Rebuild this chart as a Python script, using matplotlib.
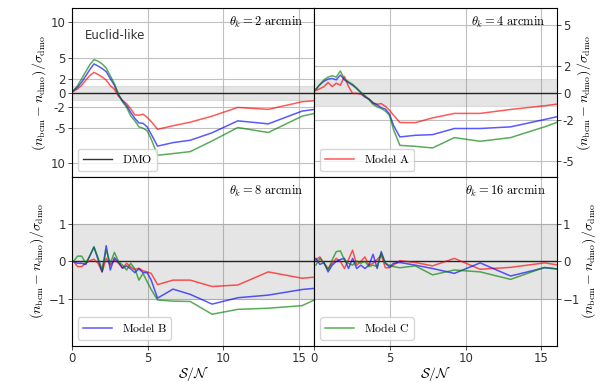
import numpy as np
import matplotlib
matplotlib.use("Agg")
import matplotlib.pyplot as plt

plt.rcParams['mathtext.fontset'] = 'cm'

# signal-to-noise bins (shared by all panels)
sn = [0.1, 0.37, 0.64, 0.91, 1.18, 1.45, 1.72, 1.99, 2.26, 2.53, 2.8, 3.07, 3.34,
      3.61, 3.88, 4.15, 4.42, 4.69, 4.96, 5.23, 5.65, 6.67, 7.81, 9.25, 10.95,
      12.96, 15.2, 16.0]

theta = [2, 4, 8, 16]
models = ['Model A', 'Model B', 'Model C']

# theta_k = 2 arcmin
a_2 = [0.2, 0.55, 1.05, 1.8, 2.45, 2.9, 2.6, 2.25, 1.8, 1.0, 0.5, -0.5, -1.1, -1.55,
       -2.3, -3.15, -3.2, -3.05, -3.5, -4.1, -5.2, -4.7, -4.19, -3.33, -2.09, -2.37,
       -1.28, -1.14]
b_2 = [0.3, 0.8, 1.5, 2.4, 3.3, 4.1, 3.8, 3.45, 3.0, 2.0, 1.05, -0.3, -1.2, -1.85,
       -2.8, -3.65, -4.3, -4.35, -4.85, -5.9, -7.6, -7.1, -6.76, -5.7, -4.0, -4.43,
       -2.61, -2.38]
c_2 = [0.3, 1.0, 2.0, 3.0, 4.0, 4.7, 4.5, 4.1, 3.5, 2.4, 1.3, -0.2, -1.3, -2.1, -3.3,
       -4.0, -4.85, -5.05, -5.4, -6.6, -8.9, -8.66, -8.38, -6.86, -4.95, -5.66, -3.33,
       -2.95]

# theta_k = 4 arcmin
a_4 = [0.15, 0.3, 0.45, 0.75, 0.45, 0.7, 0.55, 1.2, 0.45, -0.05, -0.05, -0.1, -0.3,
       -0.5, -0.75, -0.84, -0.8, -1.0, -1.28, -1.65, -2.19, -2.2, -1.85, -1.52, -1.52,
       -1.23, -0.96, -0.84]
b_4 = [0.25, 0.6, 0.85, 1.0, 1.05, 0.95, 1.3, 0.95, 0.75, 0.55, 0.3, 0.0, -0.3, -0.45,
       -0.75, -0.9, -1.1, -1.2, -1.55, -2.4, -3.25, -3.13, -3.08, -2.63, -2.63, -2.51,
       -1.97, -1.77]
c_4 = [0.25, 0.6, 0.95, 1.15, 1.25, 1.15, 1.6, 1.0, 0.8, 0.62, 0.35, 0.05, -0.2, -0.5,
       -0.85, -1.05, -1.15, -1.35, -1.65, -2.7, -3.87, -3.94, -4.06, -3.3, -3.57, -3.3,
       -2.51, -2.19]

# theta_k = 8 arcmin
a_8 = [0.0, -0.14, -0.14, -0.05, 0.02, 0.06, -0.05, -0.28, 0.08, -0.1, 0.04, -0.05,
       -0.18, -0.05, -0.15, -0.22, -0.18, -0.25, -0.28, -0.32, -0.62, -0.5, -0.5,
       -0.67, -0.63, -0.28, -0.45, -0.42]
b_8 = [0.0, -0.05, -0.05, -0.08, 0.15, 0.38, 0.05, -0.28, 0.42, -0.23, 0.1, -0.02,
       -0.18, -0.12, -0.2, -0.3, -0.2, -0.3, -0.3, -0.5, -0.98, -0.74, -0.88, -1.14,
       -0.97, -0.9, -0.75, -0.72]
c_8 = [0.0, 0.14, 0.14, -0.05, 0.15, 0.39, 0.1, -0.23, 0.3, -0.05, 0.24, 0.0, -0.1,
       -0.23, -0.05, -0.2, -0.5, -0.32, -0.54, -0.75, -1.03, -1.06, -1.07, -1.41,
       -1.28, -1.25, -1.18, -1.03]

# theta_k = 16 arcmin
a_16 = [0.04, 0.12, -0.05, -0.19, -0.05, 0.08, 0.0, -0.19, 0.05, 0.3, -0.1, 0.0, 0.12,
        -0.1, -0.05, 0.05, 0.17, -0.17, -0.17, -0.1, 0.02, -0.03, -0.12, 0.08, -0.21,
        -0.16, -0.04, -0.09]
b_16 = [0.08, -0.08, -0.03, -0.28, -0.1, 0.0, 0.05, 0.08, -0.19, 0.08, -0.19, -0.1,
        -0.19, -0.1, 0.19, -0.19, 0.26, -0.05, -0.15, -0.05, -0.03, -0.1, -0.19, -0.32,
        -0.04, -0.39, -0.17, -0.2]
c_16 = [-0.1, 0.08, -0.05, -0.23, 0.04, 0.26, 0.28, 0.04, -0.05, -0.1, 0.01, -0.05,
        0.0, -0.14, -0.1, -0.14, 0.21, -0.05, -0.1, -0.14, -0.17, -0.12, -0.36, -0.23,
        -0.28, -0.48, -0.16, -0.2]

series = [(a_2, b_2, c_2), (a_4, b_4, c_4), (a_8, b_8, c_8), (a_16, b_16, c_16)]
colors = ['r', 'b', 'g']

fig, axes = plt.subplots(2, 2, figsize=(6.07, 3.82), dpi=100, sharex=True)
fig.subplots_adjust(left=0.1186, right=0.917, top=0.978, bottom=0.095,
                    hspace=0, wspace=0)
axes = axes.flatten()

ylabel = r'$(n_{\rm bcm} - n_{\rm dmo})/\sigma_{\rm dmo}$'

for i, ax in enumerate(axes):
    ax.axhspan(-1, 1, color='gray', alpha=0.2, lw=0.8)
    dmo, = ax.plot([0, 16], [0, 0], color='k', lw=1.0, alpha=0.8, label=r'$\rm DMO$')
    lines = []
    for vals, col, name in zip(series[i], colors, models):
        l, = ax.plot(sn, vals, color=col, alpha=0.65, lw=1.1,
                     label=r'$\rm %s$' % name.replace(' ', r'\ '))
        lines.append(l)
    ax.grid(True, color='#c0c0c0', lw=0.8)
    ax.set_axisbelow(True)
    ax.set_xlim(0, 16)
    ax.set_xticks([0, 5, 10, 15])
    ax.tick_params(labelsize=8.5, length=3, width=0.6, pad=1.5, colors='#333333')
    ax.text(0.955, 0.915, r'$\theta_k = %d\ \mathrm{arcmin}$' % theta[i],
            transform=ax.transAxes, ha='right', va='center', fontsize=9)
    if i % 2 == 1:
        ax.yaxis.tick_right()
        ax.yaxis.set_label_position('right')
        ax.set_ylabel(ylabel, fontsize=10, labelpad=0)
    else:
        ax.set_ylabel(ylabel, fontsize=10, labelpad=2)
    if i >= 2:
        ax.set_xlabel(r'$\mathcal{S}/\mathcal{N}$', fontsize=10, labelpad=-1)
    handle = dmo if i == 0 else lines[i - 1]
    ax.legend(handles=[handle], loc='lower left', fontsize=8.5, framealpha=0.8,
              handlelength=2.5, borderpad=0.4)

axes[0].set_ylim(-12, 12)
axes[0].set_yticks([10, 5, 2, 0, -2, -5, -10])
axes[0].set_yticklabels(['10', '5', '2', '0', '-2', '-5', '10'])
axes[0].text(0.055, 0.84, 'Euclid-like', transform=axes[0].transAxes,
             ha='left', va='center', fontsize=8.5, color='#333333')

axes[1].set_ylim(-6.2, 6.2)
axes[1].set_yticks([5, 2, 0, -2, -5])
axes[1].set_yticklabels(['5', '2', '0', '-2', '-5'])

for ax in axes[2:]:
    ax.set_ylim(-2.25, 2.25)
    ax.set_yticks([1, 0, -1])

fig.savefig('out.png', dpi=100)
